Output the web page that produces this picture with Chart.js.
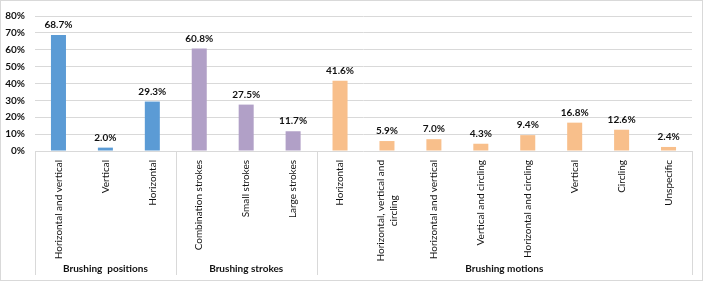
<!DOCTYPE html>
<html>
<head>
<meta charset="utf-8">
<script src="https://cdn.jsdelivr.net/npm/chart.js@4/dist/chart.umd.min.js"></script>
<style>
  body { margin: 0; background: #fff; }
  #wrap { width: 703px; height: 281px; position: relative; }
</style>
</head>
<body>
<div id="wrap"><canvas id="brushing"></canvas></div>

<script>
// categories, one per bar
var categories = [
  'Horizontal and vertical', 'Vertical', 'Horizontal',
  'Combination strokes', 'Small strokes', 'Large strokes',
  'Horizontal', ['Horizontal, vertical and', 'circling'], 'Horizontal and vertical',
  'Vertical and circling', 'Horizontal and circling', 'Vertical', 'Circling', 'Unspecific'
];
var percents = [68.7, 2.0, 29.3, 60.8, 27.5, 11.7, 41.6, 5.9, 7.0, 4.3, 9.4, 16.8, 12.6, 2.4];

var groupNames = ['Brushing  positions', 'Brushing strokes', 'Brushing motions'];
var groupSizes = [3, 3, 8];
var groupColors = ['#5B9BD5', '#B1A0C7', '#F8BF8B'];

var yMin = 0, yMax = 80, yStep = 10;

var fontFamily = 'Lato, "Open Sans", sans-serif';
var textColor = '#111111';

var barColors = [];
groupSizes.forEach(function(n, g) {
  for (var i = 0; i < n; i++) barColors.push(groupColors[g]);
});

// value labels above the bars
var valueLabels = {
  id: 'valueLabels',
  afterDatasetsDraw: function(chart) {
    var ctx = chart.ctx;
    var meta = chart.getDatasetMeta(0);
    ctx.save();
    ctx.font = 'bold 10px ' + fontFamily;
    ctx.fillStyle = textColor;
    ctx.textAlign = 'center';
    ctx.textBaseline = 'bottom';
    meta.data.forEach(function(bar, i) {
      ctx.fillText(percents[i].toFixed(1) + '%', bar.x, bar.y - 5);
    });
    ctx.restore();
  }
};

// rotated category labels, group boxes and names, outer frame
var groupAxis = {
  id: 'groupAxis',
  afterDraw: function(chart) {
    var ctx = chart.ctx;
    var xs = chart.scales.x;
    var area = chart.chartArea;
    var bottom = 275;
    ctx.save();

    // category labels, reading bottom to top, lines centred on each other
    ctx.font = '10px ' + fontFamily;
    ctx.fillStyle = textColor;
    ctx.textAlign = 'center';
    ctx.textBaseline = 'middle';
    var labelTop = area.bottom + 9;
    var lineHeight = 13;
    categories.forEach(function(label, i) {
      var lines = Array.isArray(label) ? label : [label];
      var w = ctx.measureText(lines[0]).width;
      var cx = xs.getPixelForValue(i);
      ctx.save();
      ctx.translate(cx, labelTop + w / 2);
      ctx.rotate(-Math.PI / 2);
      lines.forEach(function(line, k) {
        ctx.fillText(line, 0, (k - (lines.length - 1) / 2) * lineHeight);
      });
      ctx.restore();
    });

    ctx.strokeStyle = '#D9D9D9';
    ctx.lineWidth = 1;
    var edges = [area.left];
    var start = 0;
    groupSizes.forEach(function(n) {
      var end = start + n;
      if (end < categories.length) {
        edges.push((xs.getPixelForValue(end - 1) + xs.getPixelForValue(end)) / 2);
      }
      start = end;
    });
    edges.push(area.right);

    edges.forEach(function(x) {
      x = Math.round(x) + 0.5;
      ctx.beginPath();
      ctx.moveTo(x, area.bottom);
      ctx.lineTo(x, bottom);
      ctx.stroke();
    });

    ctx.font = 'bold 10px ' + fontFamily;
    ctx.textAlign = 'center';
    ctx.textBaseline = 'middle';
    groupNames.forEach(function(name, g) {
      ctx.fillText(name, (edges[g] + edges[g + 1]) / 2, 269);
    });

    ctx.strokeRect(0.5, 0.5, chart.width - 1, chart.height - 1);
    ctx.restore();
  }
};

new Chart(document.getElementById('brushing'), {
  type: 'bar',
  data: {
    labels: categories,
    datasets: [{
      data: percents,
      backgroundColor: barColors,
      borderWidth: 0,
      barPercentage: 0.32,
      categoryPercentage: 1.0
    }]
  },
  options: {
    responsive: true,
    maintainAspectRatio: false,
    animation: false,
    layout: { padding: { top: 11, right: 11, bottom: 0, left: 0 } },
    plugins: {
      legend: { display: false },
      tooltip: { enabled: false }
    },
    scales: {
      x: {
        grid: { display: false, drawTicks: false },
        border: { display: false },
        afterFit: function(scale) { scale.height = 130; },
        ticks: { display: false }
      },
      y: {
        min: yMin,
        max: yMax,
        grid: { color: '#D9D9D9', drawTicks: false },
        border: { display: false },
        afterFit: function(scale) { scale.width = 35; },
        ticks: {
          stepSize: yStep,
          padding: 10,
          color: textColor,
          font: { family: fontFamily, size: 10, weight: 'bold' },
          callback: function(v) { return v + '%'; }
        }
      }
    }
  },
  plugins: [valueLabels, groupAxis]
});
</script>
</body>
</html>
